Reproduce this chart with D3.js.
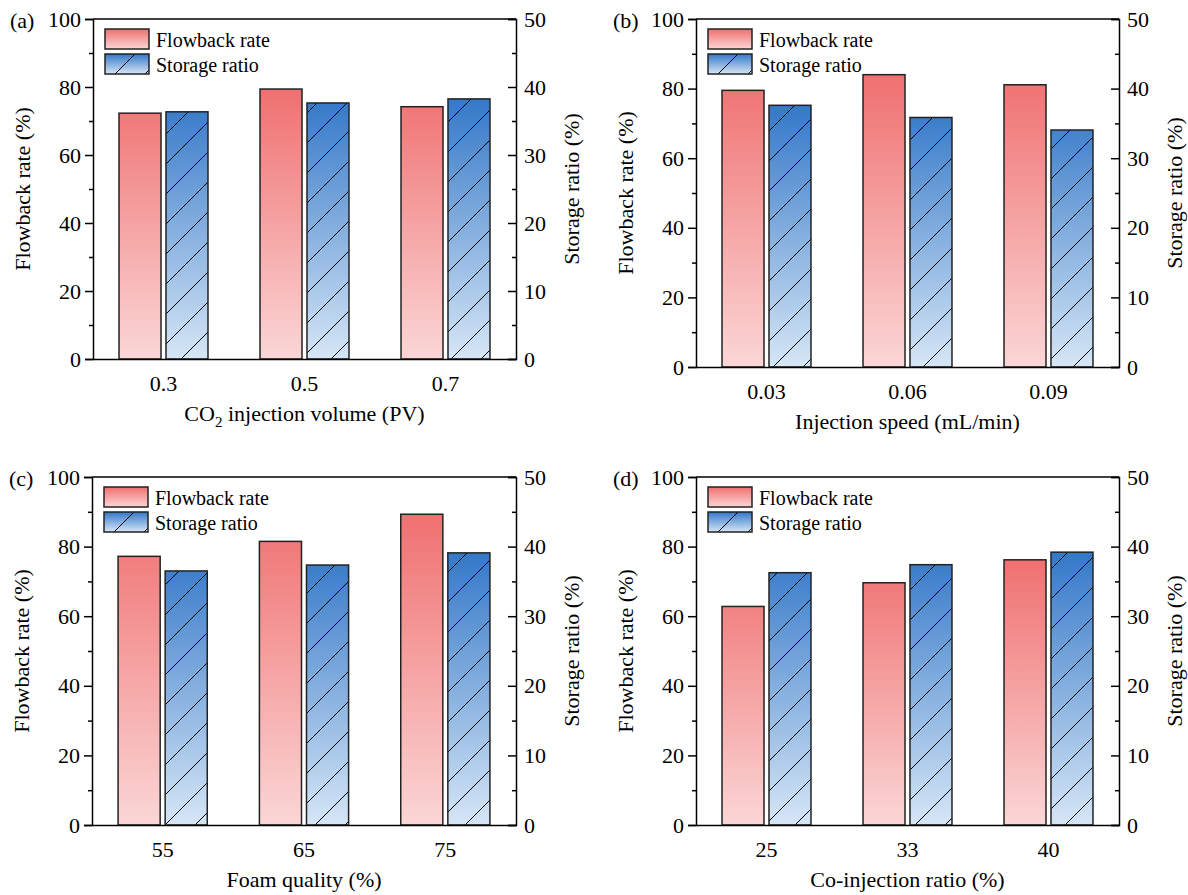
<!DOCTYPE html>
<html>
<head>
<meta charset="utf-8">
<script src="https://cdn.jsdelivr.net/npm/d3@7"></script>
<style>
  body { margin: 0; background: #fff; }
  text { font-family: 'Liberation Serif', 'Times New Roman', Tinos, 'DejaVu Serif', serif; }
</style>
</head>
<body>
<div id="chart"></div>
<script>
const FONT = "'Liberation Serif', 'Times New Roman', Tinos, 'DejaVu Serif', serif";

// Series names
const SERIES = ["Flowback rate", "Storage ratio"];

// (a) CO2 injection volume
const CATS_A = ["0.3", "0.5", "0.7"];
const FLOWBACK_A = [72.3, 79.4, 74.2];
const STORAGE_A = [36.35, 37.65, 38.25];

// (b) injection speed
const CATS_B = ["0.03", "0.06", "0.09"];
const FLOWBACK_B = [79.5, 84.0, 81.1];
const STORAGE_B = [37.6, 35.85, 34.05];

// (c) foam quality
const CATS_C = ["55", "65", "75"];
const FLOWBACK_C = [77.2, 81.5, 89.3];
const STORAGE_C = [36.5, 37.35, 39.1];

// (d) co-injection ratio
const CATS_D = ["25", "33", "40"];
const FLOWBACK_D = [62.8, 69.6, 76.2];
const STORAGE_D = [36.25, 37.4, 39.2];

const LEFT_TICKS = [0, 20, 40, 60, 80, 100];
const RIGHT_TICKS = [0, 10, 20, 30, 40, 50];

const WIDTH = 1188, HEIGHT = 895;

const SVG = d3.select("#chart").append("svg")
    .attr("width", WIDTH)
    .attr("height", HEIGHT);

const DEFS = SVG.append("defs");

// Hatch pattern for storage bars
const HATCH = DEFS.append("pattern")
    .attr("id", "hatch")
    .attr("patternUnits", "userSpaceOnUse")
    .attr("width", 30)
    .attr("height", 30);
HATCH.append("path")
    .attr("d", "M0,30 L30,0 M-5,5 L5,-5 M25,35 L35,25")
    .attr("stroke", "#000")
    .attr("stroke-width", 1);

// gradient helper
function addGradient(id, top, bottom, units, y1, y2) {
    const g = DEFS.append("linearGradient")
        .attr("id", id)
        .attr("x1", 0).attr("x2", 0)
        .attr("y1", y1).attr("y2", y2);
    if (units) g.attr("gradientUnits", units);
    g.append("stop").attr("offset", "0%").attr("stop-color", top);
    g.append("stop").attr("offset", "100%").attr("stop-color", bottom);
}
const RED_TOP = "#f07070", RED_BOT = "#fbd6d6";
const BLUE_TOP = "#3478c8", BLUE_BOT = "#d6e6f6";
addGradient("legRed", RED_TOP, RED_BOT, null, 0, 1);
addGradient("legBlue", BLUE_TOP, BLUE_BOT, null, 0, 1);

function drawPanel(opt) {
    const { id, label, cats, flow, store, left, right, top, bottom, xlabel } = opt;
    const g = SVG.append("g");

    const x0 = d3.scaleBand()
        .domain(cats)
        .range([left, right])
        .paddingInner(0.369)
        .paddingOuter(0.1845);
    const x1 = d3.scaleBand()
        .domain(SERIES)
        .range([0, x0.bandwidth()])
        .paddingInner(0.106);
    const yL = d3.scaleLinear().domain([0, 100]).range([bottom, top]);
    const yR = d3.scaleLinear().domain([0, 50]).range([bottom, top]);

    // gradients spanning zero line to tallest bar of the panel
    addGradient("red" + id, RED_TOP, RED_BOT, "userSpaceOnUse", yL(d3.max(flow)), bottom);
    addGradient("blue" + id, BLUE_TOP, BLUE_BOT, "userSpaceOnUse", yR(d3.max(store)), bottom);

    // flowback bars
    g.selectAll(".fb").data(cats).enter().append("rect")
        .attr("x", (d) => x0(d) + x1(SERIES[0]))
        .attr("y", (d, i) => yL(flow[i]))
        .attr("width", x1.bandwidth())
        .attr("height", (d, i) => bottom - yL(flow[i]))
        .attr("fill", "url(#red" + id + ")")
        .attr("stroke", "#222")
        .attr("stroke-width", 1.5);

    // storage bars: gradient + hatch
    const sb = g.selectAll(".sb").data(cats).enter().append("g");
    sb.append("rect")
        .attr("x", (d) => x0(d) + x1(SERIES[1]))
        .attr("y", (d, i) => yR(store[i]))
        .attr("width", x1.bandwidth())
        .attr("height", (d, i) => bottom - yR(store[i]))
        .attr("fill", "url(#blue" + id + ")");
    sb.append("rect")
        .attr("x", (d) => x0(d) + x1(SERIES[1]))
        .attr("y", (d, i) => yR(store[i]))
        .attr("width", x1.bandwidth())
        .attr("height", (d, i) => bottom - yR(store[i]))
        .attr("fill", "url(#hatch)")
        .attr("stroke", "#222")
        .attr("stroke-width", 1.5);

    // left axis
    const axL = g.append("g")
        .attr("transform", "translate(" + left + ",0)")
        .call(d3.axisLeft(yL).tickValues(LEFT_TICKS).tickSize(8).tickPadding(4));
    g.append("g")
        .attr("transform", "translate(" + left + ",0)")
        .call(d3.axisLeft(yL).tickValues([10, 30, 50, 70, 90]).tickSize(4).tickFormat(""))
        .select(".domain").remove();

    // right axis (ticks point inward)
    const axR = g.append("g")
        .attr("transform", "translate(" + right + ",0)")
        .call(d3.axisRight(yR).tickValues(RIGHT_TICKS).tickSize(-8).tickPadding(8));
    g.append("g")
        .attr("transform", "translate(" + right + ",0)")
        .call(d3.axisRight(yR).tickValues([5, 15, 25, 35, 45]).tickSize(-4).tickFormat(""))
        .select(".domain").remove();

    // bottom axis (no ticks)
    const axB = g.append("g")
        .attr("transform", "translate(0," + bottom + ")")
        .call(d3.axisBottom(x0).tickSize(0).tickPadding(16));

    g.selectAll("g").attr("font-family", FONT);
    [axL, axR, axB].forEach((a) => {
        a.selectAll("text")
            .attr("font-family", FONT)
            .style("font-size", "22px")
            .attr("fill", "#000");
    });
    g.selectAll(".domain").attr("stroke", "#000").attr("stroke-width", 1.5);
    g.selectAll(".tick line").attr("stroke", "#000").attr("stroke-width", 1.5);

    // top frame line
    g.append("line")
        .attr("x1", left).attr("x2", right)
        .attr("y1", top).attr("y2", top)
        .attr("stroke", "#000").attr("stroke-width", 1.5);

    // axis titles
    const midY = (top + bottom) / 2;
    g.append("text")
        .attr("transform", "translate(" + (left - 63) + "," + midY + ") rotate(-90)")
        .attr("text-anchor", "middle")
        .style("font-size", "22px")
        .text("Flowback rate (%)");
    g.append("text")
        .attr("transform", "translate(" + (right + 63) + "," + midY + ") rotate(-90)")
        .attr("text-anchor", "middle")
        .style("font-size", "22px")
        .text("Storage ratio (%)");

    const xl = g.append("text")
        .attr("x", (left + right) / 2)
        .attr("y", bottom + 62)
        .attr("text-anchor", "middle")
        .style("font-size", "22px");
    if (xlabel === "CO2") {
        xl.append("tspan").text("CO");
        xl.append("tspan").attr("dy", 6).style("font-size", "15px").text("2");
        xl.append("tspan").attr("dy", -6).text(" injection volume (PV)");
    } else {
        xl.text(xlabel);
    }

    // panel label
    g.append("text")
        .attr("x", left - 83)
        .attr("y", top + 9)
        .style("font-size", "22px")
        .text(label);

    // legend
    const leg = g.append("g");
    leg.append("rect")
        .attr("x", left + 12).attr("y", top + 10)
        .attr("width", 44).attr("height", 20)
        .attr("fill", "url(#legRed)")
        .attr("stroke", "#222").attr("stroke-width", 1.5);
    leg.append("rect")
        .attr("x", left + 12).attr("y", top + 35)
        .attr("width", 44).attr("height", 20)
        .attr("fill", "url(#legBlue)");
    leg.append("path")
        .attr("d", "M" + (left + 22) + "," + (top + 55) + " L" + (left + 42) + "," + (top + 35) +
            " M" + (left + 52) + "," + (top + 55) + " L" + (left + 56) + "," + (top + 51))
        .attr("stroke", "#000").attr("stroke-width", 1);
    leg.append("rect")
        .attr("x", left + 12).attr("y", top + 35)
        .attr("width", 44).attr("height", 20)
        .attr("fill", "none")
        .attr("stroke", "#222").attr("stroke-width", 1.5);
    leg.selectAll(".lt").data(SERIES).enter().append("text")
        .attr("x", left + 63)
        .attr("y", (d, i) => top + 28 + i * 25)
        .style("font-size", "20px")
        .text((d) => d);
}

drawPanel({ id: "A", label: "(a)", cats: CATS_A, flow: FLOWBACK_A, store: STORAGE_A,
    left: 93, right: 516, top: 19, bottom: 359, xlabel: "CO2" });
drawPanel({ id: "B", label: "(b)", cats: CATS_B, flow: FLOWBACK_B, store: STORAGE_B,
    left: 696, right: 1119, top: 19, bottom: 367, xlabel: "Injection speed (mL/min)" });
drawPanel({ id: "C", label: "(c)", cats: CATS_C, flow: FLOWBACK_C, store: STORAGE_C,
    left: 92, right: 516, top: 477, bottom: 825, xlabel: "Foam quality (%)" });
drawPanel({ id: "D", label: "(d)", cats: CATS_D, flow: FLOWBACK_D, store: STORAGE_D,
    left: 696, right: 1119, top: 477, bottom: 825, xlabel: "Co-injection ratio (%)" });
</script>
</body>
</html>
